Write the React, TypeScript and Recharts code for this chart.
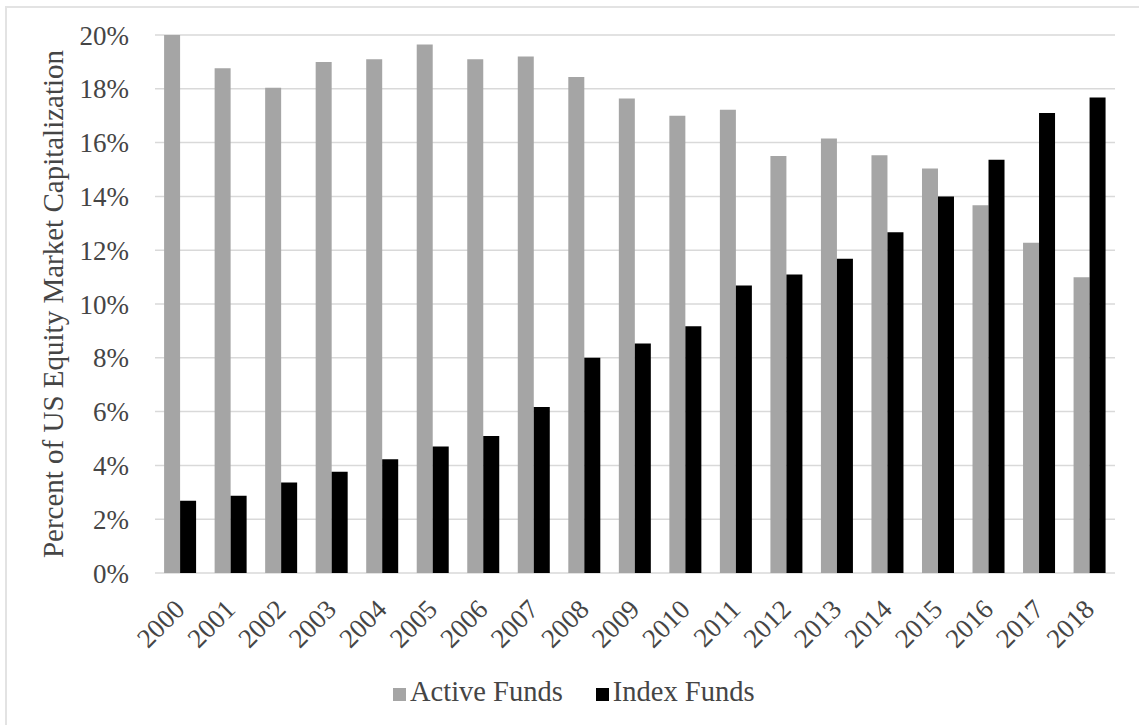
import { BarChart, Bar, XAxis, YAxis, CartesianGrid, Legend } from 'recharts'

const years = ['2000', '2001', '2002', '2003', '2004', '2005', '2006', '2007', '2008', '2009', '2010', '2011', '2012', '2013', '2014', '2015', '2016', '2017', '2018']
const activeFunds = [20.0, 18.76, 18.04, 19.0, 19.1, 19.65, 19.1, 19.2, 18.44, 17.64, 17.0, 17.22, 15.5, 16.15, 15.53, 15.04, 13.67, 12.28, 10.99]
const indexFunds = [2.69, 2.87, 3.36, 3.76, 4.23, 4.7, 5.09, 6.17, 8.0, 8.53, 9.17, 10.69, 11.1, 11.68, 12.67, 14.0, 15.36, 17.1, 17.68]
const yTicks = [0, 2, 4, 6, 8, 10, 12, 14, 16, 18, 20]

const data = years.map((year, i) => ({ year, active: activeFunds[i], index: indexFunds[i] }))

const FONT = '"Liberation Serif", "Times New Roman", serif'
const TEXT = '#454545'

// rotated year labels, end of text sits just right of the category centre
function YearTick({ x, y, payload }: any) {
	const ax = x + 6
	const ay = y + 38
	return (
		<text x={ax} y={ay} transform={`rotate(-45, ${ax}, ${ay})`} textAnchor="end" fill={TEXT} fontSize={27} fontFamily={FONT}>
			{payload.value}
		</text>
	)
}

export default function App() {
	return (
		<div style={{ position: 'absolute', left: 0, top: 0, width: 1139, height: 725, overflow: 'hidden', background: '#fff', fontFamily: FONT }}>
			<div style={{ position: 'absolute', left: 5, top: 6, width: 1300, height: 900, border: '2px solid #e3e3e3' }} />
			<div style={{ position: 'absolute', left: 0, top: 0 }}>
				<BarChart width={1139} height={725} data={data} margin={{ top: 35, right: 24, left: 45, bottom: 0 }} barCategoryGap="18%" barGap={0}>
					<CartesianGrid vertical={false} stroke="#d9d9d9" strokeWidth={1.5} />
					<XAxis dataKey="year" axisLine={false} tickLine={false} tickSize={0} tickMargin={0} height={120} interval={0} tick={<YearTick />} />
					<YAxis
						width={110}
						domain={[0, 20]}
						ticks={yTicks}
						tickFormatter={(v) => `${v}%`}
						axisLine={false}
						tickLine={false}
						tickSize={0}
						tickMargin={26}
						tick={{ fill: TEXT, fontSize: 27, fontFamily: FONT }}
						label={{ value: 'Percent of US Equity Market Capitalization', angle: -90, position: 'insideLeft', offset: 8, fill: TEXT, fontSize: 29, fontFamily: FONT, style: { textAnchor: 'middle' } }}
					/>
					<Legend
						align="left"
						verticalAlign="bottom"
						iconType="square"
						iconSize={13}
						wrapperStyle={{ left: 393, top: 676, width: 600, fontSize: 28.5, fontFamily: FONT }}
						formatter={(value) => <span style={{ color: TEXT, marginRight: 23 }}>{value}</span>}
					/>
					<Bar dataKey="active" name="Active Funds" fill="#a5a5a5" isAnimationActive={false} />
					<Bar dataKey="index" name="Index Funds" fill="#000000" isAnimationActive={false} />
				</BarChart>
			</div>
		</div>
	)
}
